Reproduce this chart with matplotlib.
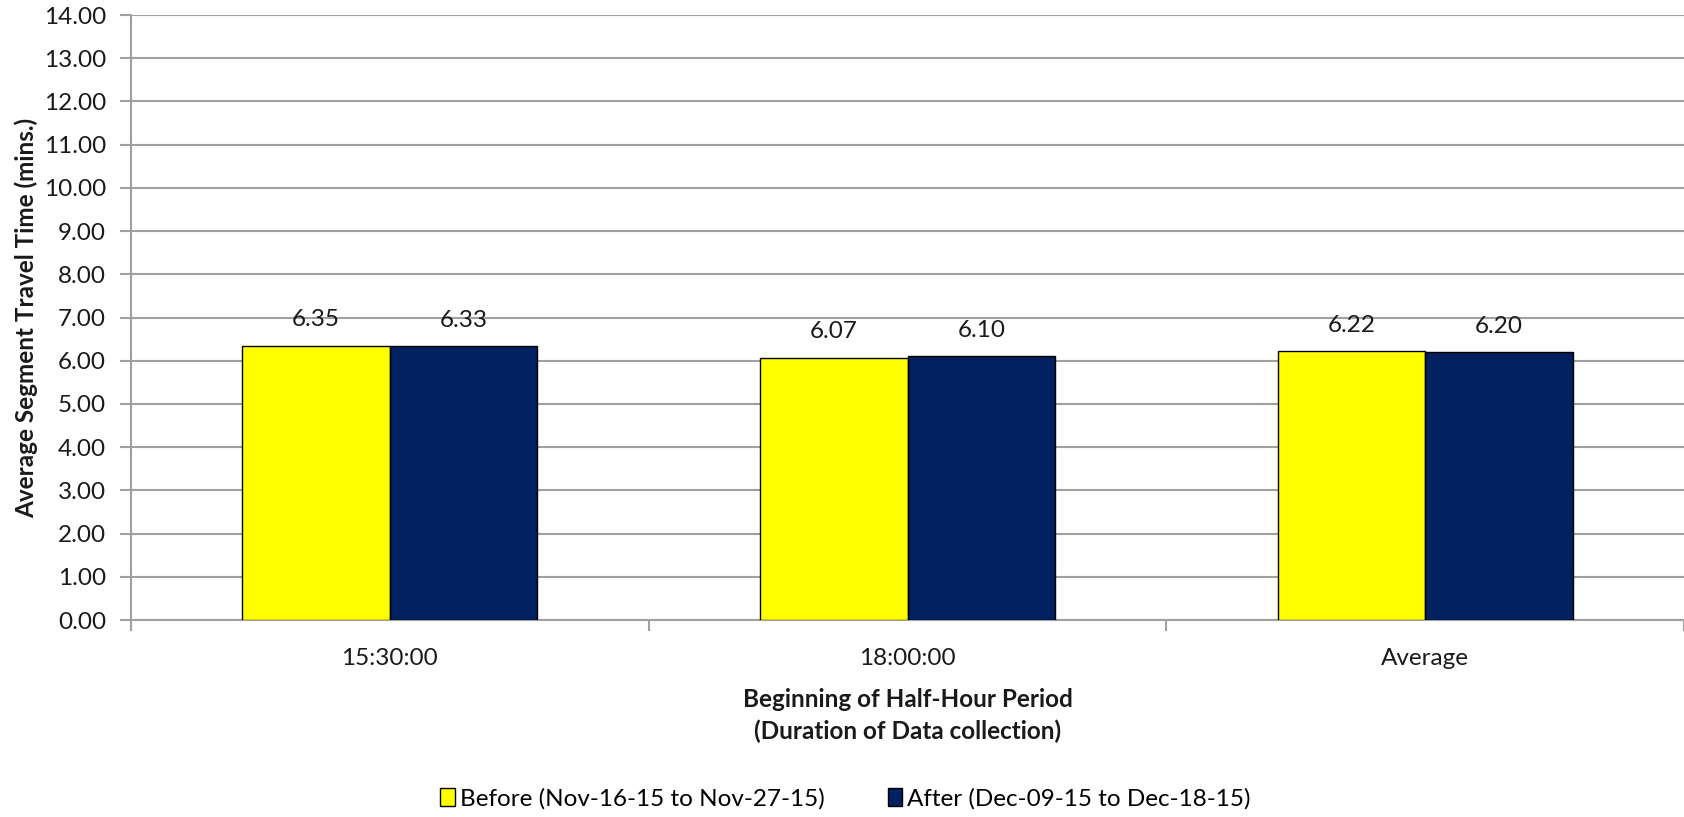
import matplotlib.pyplot as plt
import numpy as np

plt.rcParams['font.family'] = ['Lato', 'DejaVu Sans']

# Average segment travel time per half-hour period
periods = ['15:30:00', '18:00:00', 'Average']
before = [6.35, 6.07, 6.22]
after = [6.33, 6.10, 6.20]
series_names = ['Before (Nov-16-15 to Nov-27-15)', 'After (Dec-09-15 to Dec-18-15)']
y_ticks = np.arange(0, 15, 1)

fs = 17.5
fig = plt.figure(figsize=(16.84, 8.17), dpi=100)
ax = fig.add_axes([0.0778, 0.2411, 0.9222, 0.7405])

x = np.arange(len(periods))
w = 0.285
b1 = ax.bar(x - w / 2, before, w, color='#FFFF00', edgecolor='black', linewidth=1, label=series_names[0], zorder=3)
b2 = ax.bar(x + w / 2, after, w, color='#002060', edgecolor='black', linewidth=1, label=series_names[1], zorder=3)

for bars, vals in [(b1, before), (b2, after)]:
    for bar, v in zip(bars, vals):
        ax.text(bar.get_x() + bar.get_width() / 2, v + 0.6, f'{v:.2f}',
                ha='center', va='center', fontsize=fs, color='#1a1a1a')

ax.set_xlim(-0.5, len(periods) - 0.5)
ax.set_ylim(0, 14)
ax.set_yticks(y_ticks)
ax.set_yticklabels([f'{t:.2f}' for t in y_ticks], fontsize=fs, color='#1a1a1a')
ax.yaxis.grid(True, color='#a0a0a0', linewidth=1.5, zorder=0)
ax.set_axisbelow(True)

# category labels centred, tick marks between groups
ax.set_xticks(x)
ax.set_xticklabels(periods, fontsize=fs, color='#1a1a1a')
ax.tick_params(axis='x', length=0, pad=20)
ax.set_xticks(np.arange(-0.5, len(periods)), minor=True)
ax.tick_params(axis='x', which='minor', length=8, color='#a0a0a0', width=1.5)
ax.tick_params(axis='y', length=8, color='#a0a0a0', width=1.5, pad=10)

for side in ['top', 'right']:
    ax.spines[side].set_visible(False)
for side in ['left', 'bottom']:
    ax.spines[side].set_color('#a0a0a0')
    ax.spines[side].set_linewidth(1.5)

ax.set_ylabel('Average Segment Travel Time (mins.)', fontsize=fs, fontweight='bold', color='#1a1a1a')
ax.yaxis.set_label_coords(-0.06, 0.5)
ax.set_xlabel('Beginning of Half-Hour Period\n(Duration of Data collection)', fontsize=fs,
              fontweight='bold', linespacing=1.45, color='#1a1a1a')
ax.xaxis.set_label_coords(0.5, -0.112)

fig.legend(handles=[b1, b2], loc='center', bbox_to_anchor=(0.502, 0.022), ncol=2, frameon=False,
           fontsize=fs, handlelength=0.6, handleheight=0.75, handletextpad=0.2, columnspacing=2.6)

fig.savefig('out.png', dpi=100)
